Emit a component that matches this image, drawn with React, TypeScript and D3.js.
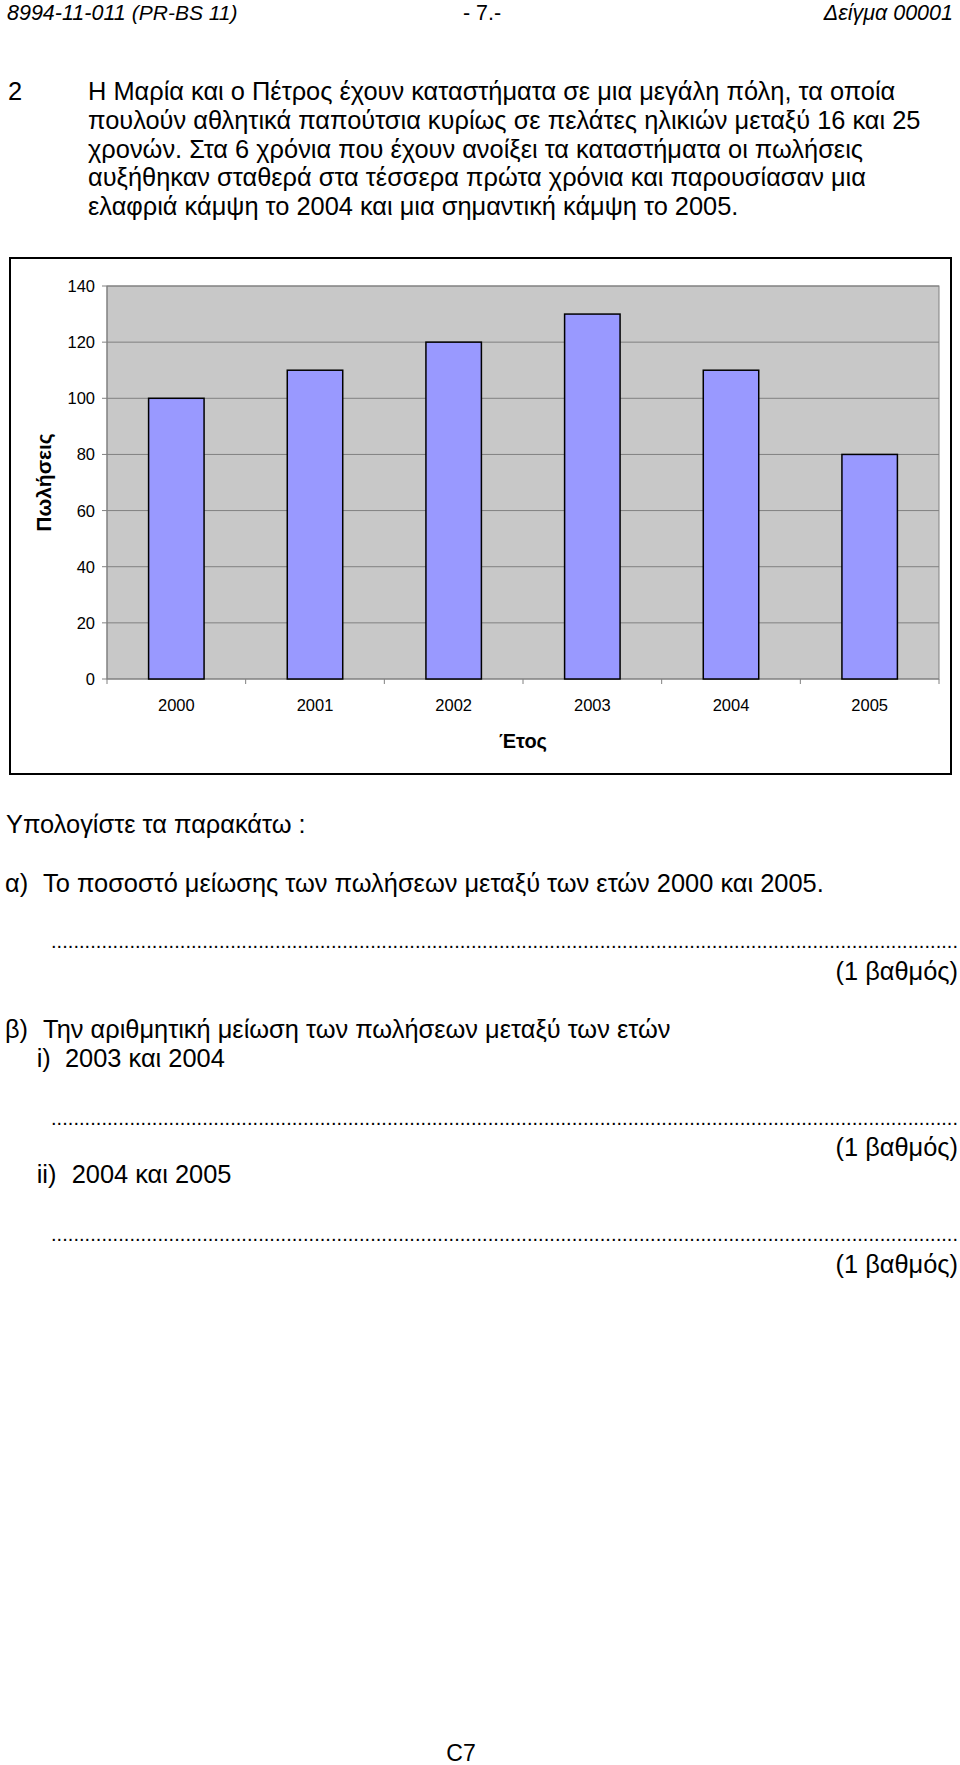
import React from "react";
import * as d3 from "d3";

const years = ["2000", "2001", "2002", "2003", "2004", "2005"];
const sales = [100, 110, 120, 130, 110, 80];
const yTicks = [0, 20, 40, 60, 80, 100, 120, 140];
const yTitle = "Πωλήσεις";
const xTitle = "Έτος";

const bodyLines = [
  "Η Μαρία και ο Πέτρος έχουν καταστήματα σε μια μεγάλη πόλη, τα οποία",
  "πουλούν αθλητικά παπούτσια κυρίως σε πελάτες ηλικιών μεταξύ 16 και 25",
  "χρονών. Στα 6 χρόνια που έχουν ανοίξει τα καταστήματα οι πωλήσεις",
  "αυξήθηκαν σταθερά στα τέσσερα πρώτα χρόνια και παρουσίασαν μια",
  "ελαφριά κάμψη το 2004 και μια σημαντική κάμψη το 2005.",
];

const FONT = "'Liberation Sans', Arial, sans-serif";
const BODY = 25.4;

export default function App() {
  const plot = { left: 107, right: 939, top: 286, bottom: 679 };
  const x = d3
    .scaleBand<string>()
    .domain(years)
    .range([plot.left, plot.right])
    .paddingInner(0.6)
    .paddingOuter(0.3);
  const y = d3.scaleLinear().domain([0, 140]).range([plot.bottom, plot.top]);
  const step = x.step();
  const bw = x.bandwidth();
  const boundaries = years.map((d) => (x(d) as number) - (step - bw) / 2);
  boundaries.push(plot.right);

  const dots = ".".repeat(162);

  return (
    <svg
      width={960}
      height={1765}
      style={{ position: "absolute", left: 0, top: 0, background: "#fff" }}
      fontFamily={FONT}
    >
      {/* header */}
      <text x={7} y={19.5} fontSize={21.5} fontStyle="italic">
        8994-11-011 <tspan fontSize={21}>(PR-BS 11)</tspan>
      </text>
      <text x={482} y={19.5} fontSize={21.5} textAnchor="middle">
        - 7.-
      </text>
      <text x={953} y={19.5} fontSize={21.5} fontStyle="italic" textAnchor="end">
        Δείγμα 00001
      </text>

      {/* question */}
      <text x={8} y={100} fontSize={BODY}>
        2
      </text>
      {bodyLines.map((l, i) => (
        <text key={i} x={88} y={100 + i * 28.75} fontSize={BODY}>
          {l}
        </text>
      ))}

      {/* chart frame */}
      <rect x={10} y={258} width={941} height={516} fill="#fff" stroke="#000" strokeWidth={2} />
      <rect
        x={plot.left}
        y={plot.top}
        width={plot.right - plot.left}
        height={plot.bottom - plot.top}
        fill="#C8C8C8"
        stroke="#808080"
        strokeWidth={1}
      />
      {yTicks.map((t) => (
        <g key={t}>
          <line x1={plot.left} x2={plot.right} y1={y(t)} y2={y(t)} stroke="#808080" strokeWidth={1} />
          <line x1={plot.left - 5} x2={plot.left} y1={y(t)} y2={y(t)} stroke="#808080" strokeWidth={1} />
          <text x={95} y={y(t)} dy="0.36em" fontSize={16.5} textAnchor="end">
            {t}
          </text>
        </g>
      ))}
      {boundaries.map((b, i) => (
        <line key={i} x1={b} x2={b} y1={plot.bottom} y2={plot.bottom + 5} stroke="#808080" strokeWidth={1} />
      ))}
      <line x1={plot.left} x2={plot.left} y1={plot.top} y2={plot.bottom} stroke="#808080" strokeWidth={1} />
      {years.map((d, i) => (
        <rect
          key={d}
          x={x(d)}
          y={y(sales[i])}
          width={bw}
          height={y(0) - y(sales[i])}
          fill="#9999FF"
          stroke="#000"
          strokeWidth={1.5}
        />
      ))}
      {years.map((d) => (
        <text key={d} x={(x(d) as number) + bw / 2} y={710.7} fontSize={16.5} textAnchor="middle">
          {d}
        </text>
      ))}
      <text x={(plot.left + plot.right) / 2} y={748} fontSize={20} fontWeight="bold" textAnchor="middle">
        {xTitle}
      </text>
      <text
        transform={`translate(51,${(plot.top + plot.bottom) / 2}) rotate(-90)`}
        fontSize={21}
        fontWeight="bold"
        textAnchor="middle"
      >
        {yTitle}
      </text>

      {/* questions below */}
      <text x={6} y={833} fontSize={BODY}>
        Υπολογίστε τα παρακάτω :
      </text>
      <text x={5} y={891.5} fontSize={BODY}>
        α)
      </text>
      <text x={43} y={891.5} fontSize={BODY}>
        Το ποσοστό μείωσης των πωλήσεων μεταξύ των ετών 2000 και 2005.
      </text>
      <text x={51} y={948} fontSize={20} textLength={907} lengthAdjust="spacing">
        {dots}
      </text>
      <text x={958} y={980} fontSize={BODY} textAnchor="end">
        (1 βαθμός)
      </text>

      <text x={5} y={1038.3} fontSize={BODY}>
        β)
      </text>
      <text x={43} y={1038.3} fontSize={BODY}>
        Την αριθμητική μείωση των πωλήσεων μεταξύ των ετών
      </text>
      <text x={36.7} y={1066.7} fontSize={BODY}>
        i)
      </text>
      <text x={65} y={1066.7} fontSize={BODY}>
        2003 και 2004
      </text>
      <text x={51} y={1124.5} fontSize={20} textLength={907} lengthAdjust="spacing">
        {dots}
      </text>
      <text x={958} y={1156} fontSize={BODY} textAnchor="end">
        (1 βαθμός)
      </text>
      <text x={36.7} y={1183.3} fontSize={BODY}>
        ii)
      </text>
      <text x={71.7} y={1183.3} fontSize={BODY}>
        2004 και 2005
      </text>
      <text x={51} y={1241} fontSize={20} textLength={907} lengthAdjust="spacing">
        {dots}
      </text>
      <text x={958} y={1273} fontSize={BODY} textAnchor="end">
        (1 βαθμός)
      </text>

      <text x={461} y={1761} fontSize={23} textAnchor="middle">
        C7
      </text>
    </svg>
  );
}
